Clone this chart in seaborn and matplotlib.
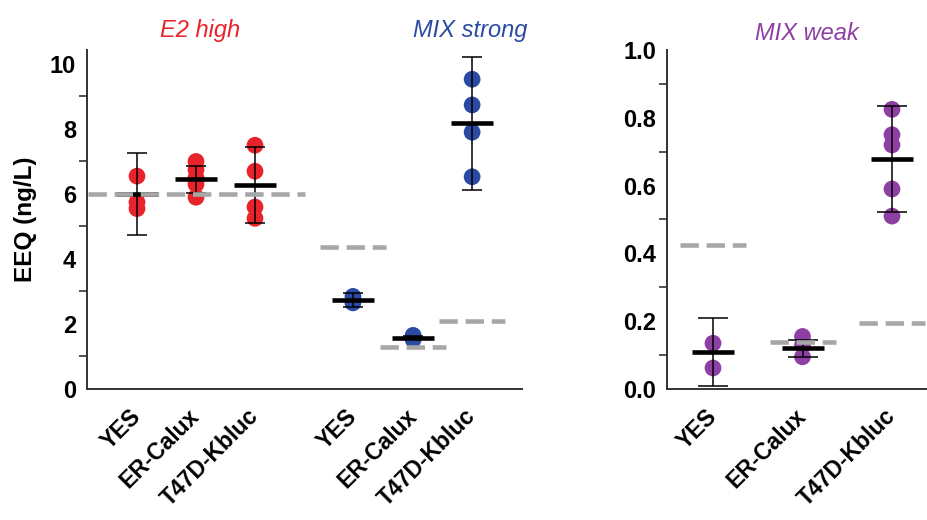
import numpy as np
import pandas as pd
import matplotlib
matplotlib.use("Agg")
import matplotlib.pyplot as plt
import seaborn as sns
from matplotlib.ticker import MultipleLocator

# ---------------- data ----------------
assays = ["YES", "ER-Calux", "T47D-Kbluc"]

e2_points = {"YES": [6.55, 5.75, 5.55],
             "ER-Calux": [7.0, 6.75, 6.5, 6.3, 5.9],
             "T47D-Kbluc": [7.5, 6.7, 5.6, 5.25]}
e2_mean = [6.0, 6.45, 6.28]
e2_err = [1.27, 0.42, 1.17]
e2_expected = 6.0

strong_points = {"YES": [2.85, 2.65],
                 "ER-Calux": [1.65, 1.52],
                 "T47D-Kbluc": [9.53, 8.74, 7.9, 6.53]}
strong_mean = [2.74, 1.58, 8.18]
strong_err = [0.21, 0.05, 2.05]
strong_expected = [4.38, 1.30, 2.09]

weak_points = {"YES": [0.135, 0.062],
               "ER-Calux": [0.155, 0.13, 0.095],
               "T47D-Kbluc": [0.825, 0.75, 0.72, 0.59, 0.51]}
weak_mean = [0.108, 0.12, 0.678]
weak_err = [0.10, 0.026, 0.156]
weak_expected = [0.425, 0.14, 0.194]

titles = ["E2 high", "MIX strong", "MIX weak"]
colors = ["#e8232b", "#2b4ba3", "#8e3fa3"]

# ---------------- style ----------------
sns.set_style("white")
plt.rcParams["font.family"] = ["Liberation Sans", "DejaVu Sans"]

W, H = 927, 520
fig = plt.figure(figsize=(W / 100, H / 100), dpi=100)

def fx(px):
    return px / W

def fy(py):
    return 1 - py / H

axL = fig.add_axes([fx(87), fy(389), fx(522 - 87), (389 - 50) / H])
axR = fig.add_axes([fx(667), fy(389), fx(W - 667), (389 - 50) / H])

gray = "#a7a7a7"
spine_col = "#333333"
dash_ls = (0, (4.0, 1.7))

def draw_group(ax, positions, pts, means, errs, color, capsize, ppu):
    rows = []
    for p, a in zip(positions, assays):
        for v in pts[a]:
            rows.append({"x": p, "y": v})
    df = pd.DataFrame(rows)
    sns.scatterplot(data=df, x="x", y="y", ax=ax, color=color, s=145,
                    edgecolor="none", linewidth=0, zorder=3, legend=False)
    ax.errorbar(positions, means, yerr=errs, fmt="none", ecolor="black",
                elinewidth=1.1, capsize=capsize, capthick=1.1, zorder=4)
    hw = 21 / ppu
    for p, m in zip(positions, means):
        ax.plot([p - hw, p + hw], [m, m], color="black", lw=3.3,
                solid_capstyle="butt", zorder=5)

ppuL = 59.0
ppuR = 89.5

posE2 = [0, 1, 2]
posST = [3.66, 4.68, 5.68]
posWK = [0, 1, 2]

draw_group(axL, posE2, e2_points, e2_mean, e2_err, colors[0], 7.2, ppuL)
draw_group(axL, posST, strong_points, strong_mean, strong_err, colors[1], 7.2, ppuL)
draw_group(axR, posWK, weak_points, weak_mean, weak_err, colors[2], 10.8, ppuR)

# expected (dashed) lines
axL.plot([posE2[0] - 0.83, posE2[-1] + 0.85], [e2_expected, e2_expected],
         color=gray, lw=3.3, ls=dash_ls, zorder=6)
hwd = 33 / ppuL
for p, e in zip(posST, strong_expected):
    axL.plot([p - hwd, p + hwd], [e, e], color=gray, lw=3.3, ls=dash_ls, zorder=6)
hwd = 33 / ppuR
for p, e in zip(posWK, weak_expected):
    axR.plot([p - hwd, p + hwd], [e, e], color=gray, lw=3.3, ls=dash_ls, zorder=6)

# axes formatting
axL.set_xlim((87 - 137) / ppuL, (522 - 137) / ppuL)
axL.set_ylim(0, 10.43)
axL.yaxis.set_major_locator(MultipleLocator(2))
axL.yaxis.set_minor_locator(MultipleLocator(1))
axL.set_xticks(posE2 + posST)
axL.set_xticklabels(assays + assays)

axR.set_xlim((667 - 713) / ppuR, (W - 713) / ppuR)
axR.set_ylim(0, 1.0)
axR.yaxis.set_minor_locator(MultipleLocator(0.1))
axR.set_yticks([0, 0.2, 0.4, 0.6, 0.8, 1.0])
axR.set_yticklabels(["0.0", "0.2", "0.4", "0.6", "0.8", "1.0"])
axR.set_xticks(posWK)
axR.set_xticklabels(assays)

for ax in (axL, axR):
    sns.despine(ax=ax)
    ax.set_xlabel("")
    ax.set_ylabel("")
    for s in ("left", "bottom"):
        ax.spines[s].set_color(spine_col)
        ax.spines[s].set_linewidth(1.4)
    ax.tick_params(axis="both", which="major", direction="out", length=7,
                   width=1.2, color=spine_col, labelsize=17, pad=1,
                   labelcolor="black")
    ax.tick_params(axis="y", which="minor", direction="out", length=6,
                   width=1.2, color=spine_col, left=True)
    ax.tick_params(axis="x", which="minor", bottom=False)
    ax.tick_params(axis="x", which="major", length=8, pad=9, labelsize=16.5)
    for lab in ax.get_yticklabels():
        lab.set_fontweight("bold")
    for lab in ax.get_xticklabels():
        lab.set_fontweight("bold")
        lab.set_rotation(45)
        lab.set_ha("right")
        lab.set_va("center")
        lab.set_rotation_mode("anchor")

axL.set_ylabel("EEQ (ng/L)", fontsize=17.5, fontweight="bold", labelpad=9,
               color="black")

# panel titles
for (cx, cy), t, c in zip([(200, 30), (470, 30), (807, 33)], titles, colors):
    fig.text(fx(cx), fy(cy), t, color=c, fontsize=17, style="italic",
             ha="center", va="center")

fig.savefig("out.png", dpi=100)
